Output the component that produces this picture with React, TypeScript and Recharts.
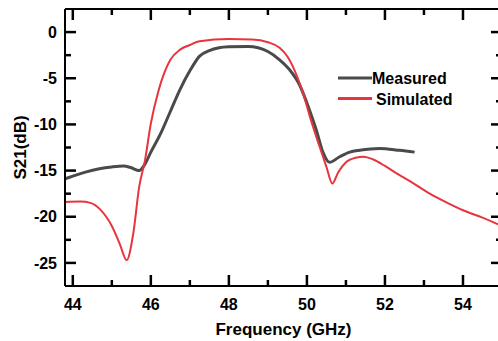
import React from 'react';
import { LineChart, Line, XAxis, YAxis, Label, ReferenceDot, ReferenceLine } from 'recharts';

const measuredFreq = [43.8, 44.0, 44.3, 44.68, 45.0, 45.3, 45.5, 45.7, 45.85, 46.0, 46.25, 46.5, 46.75, 47.0, 47.25, 47.5, 47.75, 48.0, 48.5, 48.75, 49.0, 49.3, 49.56, 49.81, 50.07, 50.24, 50.41, 50.58, 50.84, 51.1, 51.35, 51.86, 52.37, 52.76];
const measuredS21 = [-15.9, -15.6, -15.2, -14.8, -14.6, -14.5, -14.7, -15.0, -14.3, -13.0, -11.0, -8.6, -6.2, -4.2, -2.6, -2.0, -1.7, -1.6, -1.55, -1.7, -2.1, -3.0, -4.1, -5.7, -8.5, -10.6, -13.0, -14.1, -13.5, -13.0, -12.8, -12.6, -12.8, -13.0];

const simulatedFreq = [43.8, 44.2, 44.45, 44.7, 45.0, 45.2, 45.38, 45.55, 45.7, 45.85, 46.0, 46.2, 46.5, 46.75, 47.0, 47.25, 48.0, 48.6, 49.0, 49.3, 49.5, 49.7, 49.9, 50.1, 50.3, 50.5, 50.65, 50.8, 51.0, 51.25, 51.45, 51.7, 52.0, 52.3, 52.7, 53.15, 53.6, 54.0, 54.5, 55.0];
const simulatedS21 = [-18.4, -18.35, -18.5, -19.2, -21.0, -22.9, -24.7, -21.8, -16.8, -13.9, -9.9, -6.3, -3.0, -1.9, -1.4, -1.0, -0.76, -0.8, -1.1, -1.7, -2.65, -4.3, -6.6, -9.5, -12.1, -14.6, -16.4, -15.2, -14.1, -13.6, -13.5, -13.8, -14.5, -15.3, -16.3, -17.5, -18.5, -19.3, -20.1, -21.0];

const xMajorTicks = [44, 46, 48, 50, 52, 54];
const xMinorTicks = [45, 47, 49, 51, 53];
const yMajorTicks = [0, -5, -10, -15, -20, -25];
const yMinorTicks = [-2.5, -7.5, -12.5, -17.5, -22.5];

const measuredData = measuredFreq.map((f, i) => ({ f, v: measuredS21[i] }));
const simulatedData = simulatedFreq.map((f, i) => ({ f, v: simulatedS21[i] }));

const X_DOMAIN: [number, number] = [43.8, 55];
const Y_DOMAIN: [number, number] = [-27.5, 2.5];
const FONT = "'Liberation Sans', Arial, sans-serif";
const GRAY = '#4a4a4a';
const RED = '#e8343c';
const TICKTEXT = { fontSize: 16, fontWeight: 'bold', fill: '#000', fontFamily: FONT };

const tickShape = (dx: number, dy: number) => (p: any) => (
  <line x1={p.cx} y1={p.cy} x2={p.cx + dx} y2={p.cy + dy} stroke="#000" strokeWidth={2.5} />
);

const xTickMarks = [
  ...xMajorTicks.map((v) => ({ v, len: 11 })),
  ...xMinorTicks.map((v) => ({ v, len: 6 })),
];
const yTickMarks = [
  ...yMajorTicks.map((v) => ({ v, len: 11 })),
  ...yMinorTicks.map((v) => ({ v, len: 6 })),
];

export default function App() {
  return (
    <div style={{ position: 'absolute', left: 0, top: 0, width: 498, height: 341, overflow: 'hidden', background: '#fff' }}>
      <LineChart width={520} height={341} margin={{ top: 9, right: 18, bottom: 0, left: 0 }}>
        <XAxis
          xAxisId="bottom"
          dataKey="f"
          type="number"
          domain={X_DOMAIN}
          ticks={xMajorTicks}
          interval={0}
          allowDataOverflow
          height={55}
          tickSize={0}
          tickMargin={13}
          tickLine={false}
          axisLine={false}
          tick={TICKTEXT}
        >
          <Label
            content={(p: any) => {
              const vb = p.viewBox;
              return (
                <text x={vb.x + vb.width / 2} y={vb.y + 49} textAnchor="middle" fontSize={17} fontWeight="bold" fontFamily={FONT} fill="#000">
                  Frequency (GHz)
                </text>
              );
            }}
          />
        </XAxis>
        <YAxis
          yAxisId="left"
          type="number"
          domain={Y_DOMAIN}
          ticks={yMajorTicks}
          interval={0}
          allowDataOverflow
          width={65}
          tickSize={0}
          tickMargin={8}
          tickLine={false}
          axisLine={false}
          tick={TICKTEXT}
        >
          <Label
            content={(p: any) => {
              const vb = p.viewBox;
              const cx = 26;
              const cy = vb.y + vb.height / 2;
              return (
                <text x={cx} y={cy} transform={`rotate(-90, ${cx}, ${cy})`} textAnchor="middle" fontSize={17} fontWeight="bold" fontFamily={FONT} fill="#000">
                  S21(dB)
                </text>
              );
            }}
          />
        </YAxis>
        <Line
          xAxisId="bottom"
          yAxisId="left"
          data={measuredData}
          dataKey="v"
          type="monotone"
          stroke={GRAY}
          strokeWidth={3}
          dot={false}
          isAnimationActive={false}
        />
        <Line
          xAxisId="bottom"
          yAxisId="left"
          data={simulatedData}
          dataKey="v"
          type="monotone"
          stroke={RED}
          strokeWidth={2}
          dot={false}
          isAnimationActive={false}
        />
        <ReferenceLine xAxisId="bottom" yAxisId="left" x={X_DOMAIN[0]} stroke="#000" strokeWidth={2} ifOverflow="visible" />
        <ReferenceLine xAxisId="bottom" yAxisId="left" x={X_DOMAIN[1]} stroke="#000" strokeWidth={2} ifOverflow="visible" />
        <ReferenceLine xAxisId="bottom" yAxisId="left" y={Y_DOMAIN[0]} stroke="#000" strokeWidth={2} ifOverflow="visible" />
        <ReferenceLine xAxisId="bottom" yAxisId="left" y={Y_DOMAIN[1]} stroke="#000" strokeWidth={2} ifOverflow="visible" />
        {xTickMarks.map((t) => (
          <ReferenceDot key={`b${t.v}`} xAxisId="bottom" yAxisId="left" x={t.v} y={Y_DOMAIN[0]} ifOverflow="visible" shape={tickShape(0, -t.len)} />
        ))}
        {xTickMarks.map((t) => (
          <ReferenceDot key={`t${t.v}`} xAxisId="bottom" yAxisId="left" x={t.v} y={Y_DOMAIN[1]} ifOverflow="visible" shape={tickShape(0, t.len)} />
        ))}
        {yTickMarks.map((t) => (
          <ReferenceDot key={`l${t.v}`} xAxisId="bottom" yAxisId="left" x={X_DOMAIN[0]} y={t.v} ifOverflow="visible" shape={tickShape(t.len, 0)} />
        ))}
        {yTickMarks.map((t) => (
          <ReferenceDot key={`r${t.v}`} xAxisId="bottom" yAxisId="left" x={X_DOMAIN[1]} y={t.v} ifOverflow="visible" shape={tickShape(-t.len, 0)} />
        ))}
      </LineChart>
      <svg width={160} height={50} style={{ position: 'absolute', left: 330, top: 62 }}>
        <line x1={8} x2={42} y1={16} y2={16} stroke={GRAY} strokeWidth={3} />
        <text x={42} y={21.5} fontSize={16} fontWeight="bold" fontFamily={FONT} fill="#000">Measured</text>
        <line x1={8} x2={42} y1={36.5} y2={36.5} stroke={RED} strokeWidth={3} />
        <text x={46} y={42.5} fontSize={16} fontWeight="bold" fontFamily={FONT} fill="#000">Simulated</text>
      </svg>
    </div>
  );
}
